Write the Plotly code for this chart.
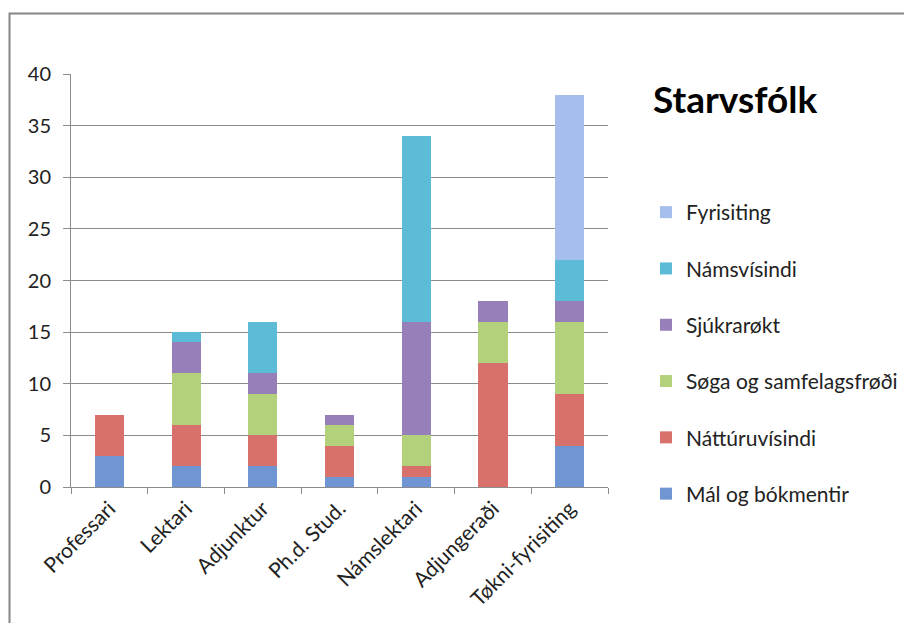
import plotly.graph_objects as go

categories = ["Professari", "Lektari", "Adjunktur", "Ph.d. Stud.", "Námslektari", "Adjungeraði", "Tøkni-fyrisiting"]
mal_og_bokmentir = [3, 2, 2, 1, 1, 0, 4]
natturuvisindi = [4, 4, 3, 3, 1, 12, 5]
soga_og_samfelagsfrodi = [0, 5, 4, 2, 3, 4, 7]
sjukrarokt = [0, 3, 2, 1, 11, 2, 2]
namsvisindi = [0, 1, 5, 0, 18, 0, 4]
fyrisiting = [0, 0, 0, 0, 0, 0, 16]

series = [
    ("Mál og bókmentir", mal_og_bokmentir, "#6F95D3"),
    ("Náttúruvísindi", natturuvisindi, "#D8706C"),
    ("Søga og samfelagsfrøði", soga_og_samfelagsfrodi, "#B3D07A"),
    ("Sjúkrarøkt", sjukrarokt, "#977FB9"),
    ("Námsvísindi", namsvisindi, "#5CBCD8"),
    ("Fyrisiting", fyrisiting, "#A5BEEC"),
]

FONT = "Lato, Carlito, Calibri, sans-serif"

fig = go.Figure()
n = len(series)
for i, (name, vals, col) in enumerate(series):
    fig.add_trace(go.Bar(
        x=categories, y=vals, name=name, legendgroup=name, legendrank=n - i,
        marker=dict(color=col, line=dict(width=0)),
    ))

# page is offset by the browser's 8px body margin
OFF = 8
W, H = 912, 623
L, T = 71 - OFF, 74 - OFF
R = W - (608 - OFF)
B = H - (487 - OFF)
pw, ph = W - L - R, H - T - B
y0pix = 487 - OFF  # figure-y of the zero line


def px_x(x):
    return (x - OFF - L) / pw


def px_y(y):
    return (y0pix - (y - OFF)) / ph


fig.update_layout(
    width=W, height=H,
    margin=dict(l=L, r=R, t=T, b=B, pad=0),
    barmode="stack", bargap=0.62,
    paper_bgcolor="white", plot_bgcolor="white",
    font=dict(family=FONT, size=20, color="#222222"),
    showlegend=True,
    legend=dict(
        x=px_x(646), xanchor="left",
        y=px_y(192), yanchor="top",
        traceorder="grouped",
        tracegroupgap=26,
        font=dict(family=FONT, size=21, color="#222222"),
        itemwidth=30,
        bgcolor="rgba(0,0,0,0)",
    ),
    xaxis=dict(
        tickangle=-45, showline=True, linecolor="#8C8C8C", linewidth=1,
        ticks="outside", ticklen=6, tickcolor="#8C8C8C", tickson="boundaries",
        showgrid=False, tickfont=dict(size=21),
    ),
    yaxis=dict(
        range=[0, 40], dtick=5, showline=True, linecolor="#8C8C8C", linewidth=1,
        ticks="outside", ticklen=7, tickcolor="#8C8C8C",
        showgrid=True, gridcolor="#8C8C8C", gridwidth=1, zeroline=False,
        tickfont=dict(size=20), ticklabelstandoff=8,
    ),
    annotations=[dict(
        text="<b>Starvsfólk</b>", x=px_x(651), y=px_y(99),
        xref="paper", yref="paper", xanchor="left", yanchor="middle",
        showarrow=False, font=dict(family=FONT, size=37, color="black"),
    )],
    shapes=[dict(
        type="rect", xref="paper", yref="paper",
        x0=px_x(9.5), x1=px_x(W + 30),
        y0=px_y(H + 30), y1=px_y(13.5),
        line=dict(color="#868686", width=2), fillcolor="rgba(0,0,0,0)", layer="below",
    )],
)

fig.write_html("out.html")
